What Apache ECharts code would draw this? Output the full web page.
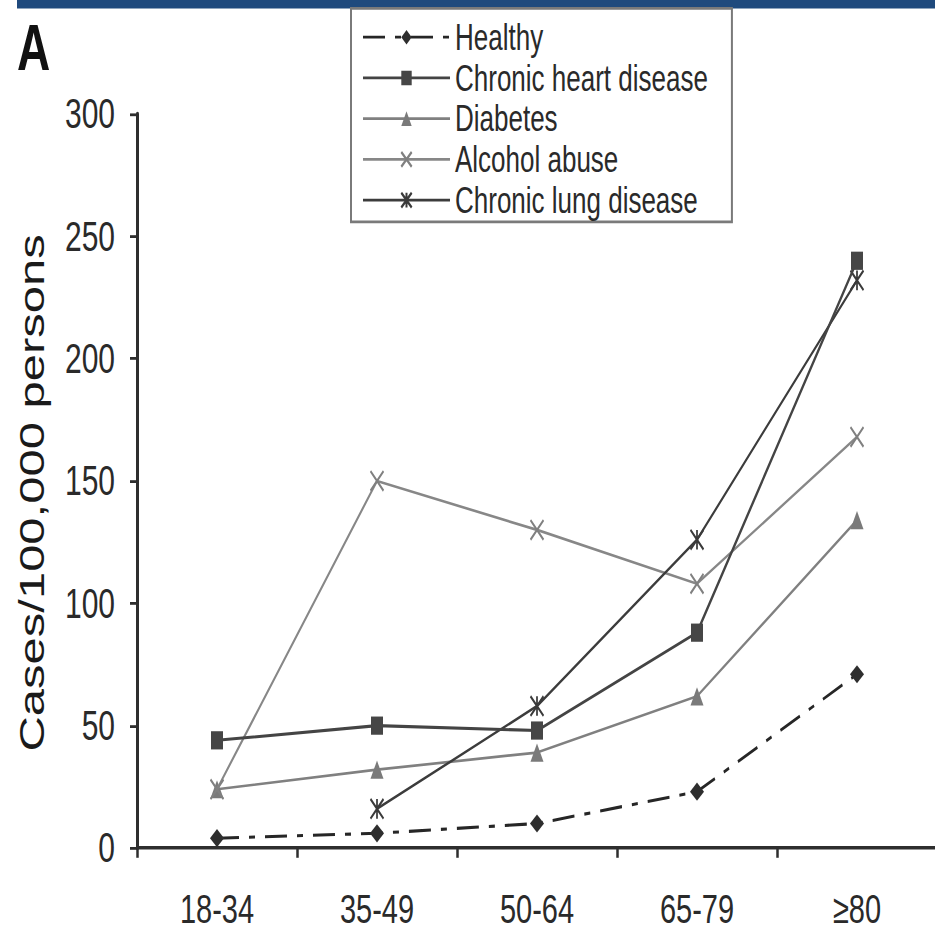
<!DOCTYPE html>
<html>
<head>
<meta charset="utf-8">
<script src="https://cdn.jsdelivr.net/npm/echarts@6/dist/echarts.min.js"></script>
<style>
html,body{margin:0;padding:0;background:#fff;overflow:hidden;}
#wrap{width:935px;height:931px;overflow:hidden;position:relative;}
#chart{width:935px;height:665px;transform:scaleY(1.4);transform-origin:0 0;}
</style>
</head>
<body>
<div id="wrap"><div id="chart"></div></div>
<script>
const categories = ['18-34', '35-49', '50-64', '65-79', '≥80'];
const healthy = [4, 6, 10, 23, 71];
const heartDisease = [44, 50, 48, 88, 240];
const diabetes = [24, 32, 39, 62, 134];
const alcoholAbuse = [24, 150, 130, 108, 168];
const lungDisease = [null, 16, 58, 126, 232];
const yTicks = { min: 0, max: 300, interval: 50 };
const yTitle = 'Cases/100,000 persons';
const panelLabel = 'A';
const legendNames = ['Healthy', 'Chronic heart disease', 'Diabetes', 'Alcohol abuse', 'Chronic lung disease'];

const sans = '"Liberation Sans", Arial, Helvetica, sans-serif';
const X_PATH = 'path://M0,0L10,10M10,0L0,10';
const AST_PATH = 'path://M0,0L10,10M10,0L0,10M5,0L5,10';

function mkSeries(name, data, opts) {
  return {
    name: name,
    type: 'line',
    data: data,
    symbol: opts.symbol,
    symbolSize: opts.size,
    showAllSymbol: true,
    connectNulls: false,
    lineStyle: { color: opts.line, width: opts.width, type: opts.dash || 'solid' },
    itemStyle: { color: opts.fill, borderColor: opts.stroke || opts.fill, borderWidth: opts.bw || 0, opacity: 1 },
    emphasis: { disabled: true },
    z: opts.z || 2
  };
}

const chart = echarts.init(document.getElementById('chart'), null, { renderer: 'svg', width: 935, height: 665 });
chart.setOption({
  backgroundColor: '#ffffff',
  animation: false,
  graphic: [
    { type: 'rect', left: 17, top: 0, shape: { width: 918, height: 6 }, style: { fill: '#1f4a7d' } },
    { type: 'text', left: 17, top: 11, style: { text: panelLabel, font: 'bold 46px ' + sans, fill: '#111' } }
  ],
  legend: {
    orient: 'vertical',
    left: 351,
    top: 6,
    itemWidth: 87,
    itemHeight: 13,
    itemGap: 0,
    padding: [6, 24, 1, 11],
    borderColor: '#7a7a7a',
    borderWidth: 2,
    backgroundColor: '#fff',
    selectedMode: false,
    textStyle: { fontFamily: sans, fontSize: 26, color: '#2a2a2a', lineHeight: 29.1 },
    data: legendNames
  },
  grid: { left: 137, top: 81.4, bottom: 59.3, width: 800, containLabel: false, outerBoundsMode: 'none' },
  xAxis: {
    type: 'category',
    data: categories,
    boundaryGap: true,
    axisLine: { show: true, lineStyle: { color: '#2e2e2e', width: 2.5 } },
    axisTick: { show: true, length: 7, interval: 0, lineStyle: { color: '#2e2e2e', width: 2.5 } },
    axisLabel: { fontFamily: sans, fontSize: 29, color: '#2a2a2a', margin: 29, interval: 0 },
    splitLine: { show: false }
  },
  yAxis: {
    type: 'value',
    min: yTicks.min,
    max: yTicks.max,
    interval: yTicks.interval,
    name: yTitle,
    nameLocation: 'middle',
    nameGap: 88,
    nameRotate: 90,
    nameTextStyle: { fontFamily: sans, fontSize: 35, color: '#1a1a1a', padding: [0, 17, 0, 0] },
    axisLine: { show: true, lineStyle: { color: '#2e2e2e', width: 3 } },
    axisTick: { show: true, length: 7, lineStyle: { color: '#2e2e2e', width: 2 } },
    axisLabel: { fontFamily: sans, fontSize: 30, color: '#2a2a2a', margin: 22 },
    splitLine: { show: false }
  },
  series: [
    mkSeries('Healthy', healthy, { symbol: 'diamond', size: [14, 13], line: '#262626', width: 2.2, dash: [22, 10, 6, 10], fill: '#2e2e2e', z: 6 }),
    mkSeries('Chronic heart disease', heartDisease, { symbol: 'rect', size: [12, 13], line: '#444444', width: 2.2, fill: '#464646', z: 5 }),
    mkSeries('Diabetes', diabetes, { symbol: 'triangle', size: [13, 13], line: '#808080', width: 1.9, fill: '#7a7a7a', z: 3 }),
    mkSeries('Alcohol abuse', alcoholAbuse, { symbol: X_PATH, size: [13, 14], line: '#878787', width: 1.9, fill: 'rgba(0,0,0,0)', stroke: '#808080', bw: 1.8, z: 4 }),
    mkSeries('Chronic lung disease', lungDisease, { symbol: AST_PATH, size: [13, 14], line: '#3c3c3c', width: 1.9, fill: 'rgba(0,0,0,0)', stroke: '#3a3a3a', bw: 1.8, z: 4 })
  ]
});
</script>
</body>
</html>
